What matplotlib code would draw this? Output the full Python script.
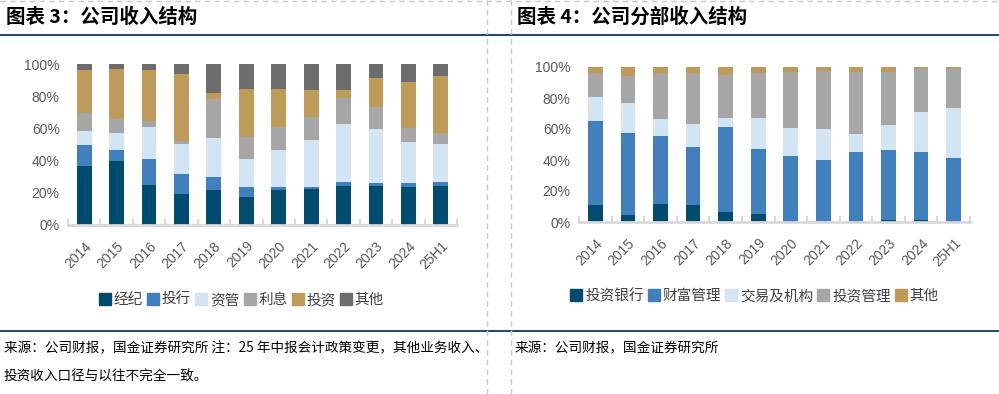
import numpy as np
import matplotlib
matplotlib.use('Agg')
import matplotlib.pyplot as plt
from matplotlib.lines import Line2D
from matplotlib.ticker import FixedLocator, PercentFormatter

plt.rcParams['font.family'] = ['Liberation Sans', 'Noto Sans CJK SC']

years = ['2014', '2015', '2016', '2017', '2018', '2019', '2020', '2021', '2022', '2023', '2024', '25H1']

# 图表3 公司收入结构 (%)
rev_names = ['经纪', '投行', '资管', '利息', '投资', '其他']
brokerage = [36.6, 40.0, 24.8, 19.3, 21.7, 17.4, 21.7, 22.4, 24.2, 24.2, 23.6, 24.2]
ib_fee = [13.1, 6.6, 16.2, 12.4, 8.1, 6.2, 1.9, 1.2, 2.5, 1.9, 2.5, 2.5]
am_fee = [8.7, 10.5, 19.9, 18.8, 24.2, 17.4, 23.0, 29.2, 36.0, 33.5, 25.5, 23.8]
interest = [11.4, 8.9, 3.9, 1.9, 24.5, 13.9, 14.5, 14.5, 16.2, 13.9, 8.6, 6.6]
invest = [26.7, 30.9, 31.7, 41.6, 3.7, 29.8, 23.6, 16.8, 5.2, 18.0, 28.8, 35.7]
other = [3.5, 3.1, 3.5, 6.0, 17.8, 15.3, 15.3, 15.9, 15.9, 8.5, 11.0, 7.2]
rev_colors = ['#004B6E', '#417FBD', '#D3E5F3', '#A6A6A6', '#BF9B5B', '#6D6D6D']

# 图表4 公司分部收入结构 (%)
seg_names = ['投资银行', '财富管理', '交易及机构', '投资管理', '其他']
seg_ib = [11.0, 4.3, 11.4, 10.8, 6.3, 5.0, 0.6, 0.3, 0.6, 1.3, 1.3, 0.6]
seg_wealth = [54.1, 53.0, 44.0, 37.5, 54.9, 42.0, 41.9, 39.6, 44.4, 45.0, 43.7, 40.6]
seg_trading = [15.5, 19.4, 11.0, 14.8, 5.8, 20.0, 18.1, 20.0, 11.7, 16.2, 25.9, 32.3]
seg_am = [15.7, 17.5, 29.9, 33.2, 27.8, 29.3, 36.2, 37.5, 40.1, 34.3, 27.8, 25.2]
seg_other = [3.7, 5.8, 3.7, 3.7, 5.2, 3.7, 3.2, 2.6, 3.2, 3.2, 1.3, 1.3]
seg_colors = ['#004B6E', '#417FBD', '#D3E5F3', '#A6A6A6', '#BF9B5B']

W, H = 999, 394
fig = plt.figure(figsize=(W / 100, H / 100), dpi=100)

def px_axes(x0, x1, y_top, y_bot):
    return fig.add_axes([x0 / W, 1 - y_bot / H, (x1 - x0) / W, (y_bot - y_top) / H])

def stacked(ax, series, names, colors, width):
    x = np.arange(len(years))
    bottom = np.zeros(len(years))
    handles = []
    for vals, name, c in zip(series, names, colors):
        v = np.array(vals) / 100
        ax.bar(x, v, width, bottom=bottom, color=c, label=name)
        bottom += v
        handles.append(Line2D([], [], marker='s', linestyle='none', markersize=8,
                              markerfacecolor=c, markeredgecolor=c, label=name))
    ax.set_xlim(-0.5, len(years) - 0.5)
    ax.set_ylim(0, 1)
    ax.yaxis.set_major_locator(FixedLocator([0, 0.2, 0.4, 0.6, 0.8, 1.0]))
    ax.yaxis.set_major_formatter(PercentFormatter(1.0, decimals=0))
    ax.set_xticks(x)
    ax.set_xticklabels(years, rotation=45, ha='right', va='top', rotation_mode='anchor')
    ax.xaxis.set_minor_locator(FixedLocator(np.arange(-0.5, len(years), 1)))
    ax.tick_params(axis='x', which='major', length=0, pad=10, labelsize=10, labelcolor='#595959')
    ax.tick_params(axis='x', which='minor', length=4, direction='in', color='#D9D9D9', width=1.5)
    ax.tick_params(axis='y', length=0, pad=6, labelsize=10, labelcolor='#595959')
    for s in ['top', 'right', 'left']:
        ax.spines[s].set_visible(False)
    ax.spines['bottom'].set_color('#D9D9D9')
    ax.spines['bottom'].set_linewidth(2)
    return handles

legend_kw = dict(loc='center', frameon=False, handlelength=0.7, handletextpad=0.25,
                 columnspacing=0.35, fontsize=10.5, labelcolor='#404040')

ax1 = px_axes(68, 457, 64, 225)
h1 = stacked(ax1, [brokerage, ib_fee, am_fee, interest, invest, other], rev_names, rev_colors, 0.46)
fig.legend(handles=h1, bbox_to_anchor=(242 / W, 1 - 300 / H), ncol=6, **legend_kw)

ax2 = px_axes(579, 970, 67, 222)
h2 = stacked(ax2, [seg_ib, seg_wealth, seg_trading, seg_am, seg_other], seg_names, seg_colors, 0.45)
fig.legend(handles=h2, bbox_to_anchor=(755 / W, 1 - 296 / H), ncol=5, **legend_kw)

# frame lines
navy = '#1F4E6E'
for y in [35, 331]:
    fig.add_artist(Line2D([0, 1], [1 - y / H, 1 - y / H], color=navy, lw=1.5, transform=fig.transFigure))
for x in [487, 511]:
    fig.add_artist(Line2D([x / W, x / W], [0, 1], color='#C8C8C8', lw=1, ls=(0, (4, 3)), transform=fig.transFigure))
fig.add_artist(Line2D([0, 1], [1 - 1 / H, 1 - 1 / H], color='#C8C8C8', lw=1, ls=(0, (4, 3)), transform=fig.transFigure))

title_font = ['Noto Sans CJK SC']
fig.text(6 / W, 1 - 17 / H, '图表 3：公司收入结构', fontsize=14, fontweight='bold', style='italic',
         family=title_font, va='center', ha='left')
fig.text(517 / W, 1 - 17 / H, '图表 4：公司分部收入结构', fontsize=14, fontweight='bold', style='italic',
         family=title_font, va='center', ha='left')

src_font = ['Noto Sans CJK SC', 'DejaVu Sans']
fig.text(4 / W, 1 - 348 / H, '来源：公司财报，国金证券研究所 注：25 年中报会计政策变更，其他业务收入、',
         fontsize=9.8, family=src_font, va='center', ha='left')
fig.text(4 / W, 1 - 377 / H, '投资收入口径与以往不完全一致。',
         fontsize=9.8, family=src_font, va='center', ha='left')
fig.text(515 / W, 1 - 348 / H, '来源：公司财报，国金证券研究所',
         fontsize=9.8, family=src_font, va='center', ha='left')

fig.savefig('out.png', dpi=100)
